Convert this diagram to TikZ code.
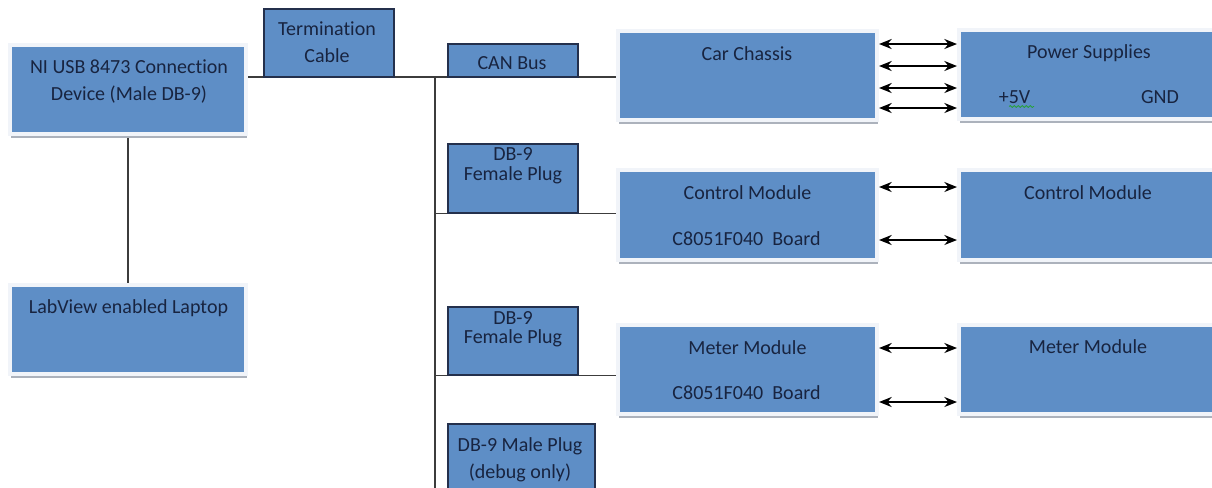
\documentclass[tikz,border=0pt]{standalone}
\usepackage{fontspec}
\setmainfont{Carlito}[RawFeature={-liga}]
\usetikzlibrary{shadows,arrows.meta,backgrounds,decorations.pathmorphing}
\definecolor{boxblue}{RGB}{94,142,198}
\definecolor{framecol}{RGB}{241,244,249}
\definecolor{shadowgray}{RGB}{172,178,188}
\definecolor{navy}{RGB}{24,36,64}
\definecolor{plugedge}{RGB}{36,48,76}
\definecolor{wire}{RGB}{60,60,60}
\definecolor{spellgreen}{RGB}{40,160,60}
\begin{document}
\begin{tikzpicture}[x=0.75pt,y=-0.75pt,
 modbox/.style 2 args={rectangle, inner sep=0, fill=boxblue, draw=framecol, line width=3pt,
   minimum width=#1, minimum height=#2,
   drop shadow={shadow xshift=0.6pt, shadow yshift=-3.3pt, fill=shadowgray, opacity=1}},
 plugbox/.style 2 args={rectangle, inner sep=0, fill=boxblue, draw=plugedge, line width=1.1pt,
   minimum width=#1, minimum height=#2},
 txt/.style={inner sep=0, text=navy, anchor=base, font=\fontsize{15}{18}\selectfont},
 wireline/.style={draw=wire, line width=1pt},
 link/.style={draw=black, line width=1.3pt, {Stealth[length=9.5pt,width=7.5pt]}-{Stealth[length=9.5pt,width=7.5pt]}},
]
\useasboundingbox (0,0) rectangle (1212,487);

% module boxes
\node[modbox={177pt}{66.75pt}] (ni) at (128,89.5) {};
\node[modbox={177pt}{66.75pt}] (lab) at (128,329.5) {};
\node[modbox={194.25pt}{66.75pt}] (car) at (747.5,75.5) {};
\node[modbox={203.25pt}{66.75pt}] (ps) at (1094.5,74.5) {};
\node[modbox={194.25pt}{67.5pt}] (ctlL) at (747.5,215) {};
\node[modbox={203.25pt}{67.5pt}] (ctlR) at (1094.5,215) {};
\node[modbox={194.25pt}{66.75pt}] (metL) at (747.5,369.5) {};
\node[modbox={203.25pt}{66.75pt}] (metR) at (1094.5,369.5) {};

% plug boxes
\node[plugbox={97.5pt}{51pt}] (term) at (329,43) {};
\node[plugbox={97.5pt}{24.75pt}] (can) at (513,60.5) {};
\node[plugbox={97.5pt}{51.75pt}] (dba) at (513,178.5) {};
\node[plugbox={97.5pt}{51pt}] (dbb) at (513,341) {};
\node[plugbox={110.25pt}{57pt}] (dbm) at (521.5,462) {};

% wires
\coordinate (bj) at (435,77);
\coordinate (bend) at (435,495);
\begin{scope}[on background layer]
\fill[white] (0,0) rectangle (1212,487);
\draw[wireline] (ni.east |- bj) -- (bj) -- (bend);
\draw[wireline] (bj) -- (car.west |- bj);
\draw[wireline] (dba.south -| bj) -- (ctlL.west |- dba.south);
\draw[wireline] (dbb.south -| bj) -- (metL.west |- dbb.south);
\draw[wireline] (ni.south) -- (lab.north);
\end{scope}

% arrows
\foreach \yy [count=\i] in {44,66,88,108} {
  \coordinate (p\i) at (918,\yy);
  \draw[link] (car.east |- p\i) -- (ps.west |- p\i);
}
\coordinate (c1) at (918,187);
\coordinate (c2) at (918,240);
\draw[link] (ctlL.east |- c1) -- (ctlR.west |- c1);
\draw[link] (ctlL.east |- c2) -- (ctlR.west |- c2);
\coordinate (m1) at (918,348);
\coordinate (m2) at (918,402);
\draw[link] (metL.east |- m1) -- (metR.west |- m1);
\draw[link] (metL.east |- m2) -- (metR.west |- m2);

% texts
\node[txt] (tni1) at (129,73) {NI USB 8473 Connection};
\node[txt] (tni2) at (129,100) {Device (Male DB-9)};
\node[txt] (tlab) at (128.5,313) {LabView enabled Laptop};
\node[txt] (tterm1) at (327,35) {Termination};
\node[txt] (tterm2) at (327,62) {Cable};
\node[txt] (tcan) at (512,69) {CAN Bus};
\node[txt] (tcar) at (747,60) {Car Chassis};
\node[txt] (tps) at (1089,58) {Power Supplies};
\node[txt] (t5v) at (1014.5,103) {+5V};
\node[txt] (tgnd) at (1160,103) {GND};
\draw[spellgreen, line width=0.6pt, decorate, decoration={snake, amplitude=0.7pt, segment length=3pt}] (1009,106.5) -- (1034,106.5);
\node[txt] (tdba1) at (513,160) {DB-9};
\node[txt] (tdba2) at (513,180) {Female Plug};
\node[txt] (tdbb1) at (513,324) {DB-9};
\node[txt] (tdbb2) at (513,343) {Female Plug};
\node[txt] (tdbm1) at (520,451) {DB-9 Male Plug};
\node[txt] (tdbm2) at (520,478) {(debug only)};
\node[txt] (tctlL) at (747.5,199) {Control Module};
\node[txt] (tctlB) at (746.5,245) {C8051F040~~Board};
\node[txt] (tctlR) at (1088,199) {Control Module};
\node[txt] (tmetL) at (747.5,354) {Meter Module};
\node[txt] (tmetB) at (746.5,399) {C8051F040~~Board};
\node[txt] (tmetR) at (1088,353) {Meter Module};
\end{tikzpicture}
\end{document}
